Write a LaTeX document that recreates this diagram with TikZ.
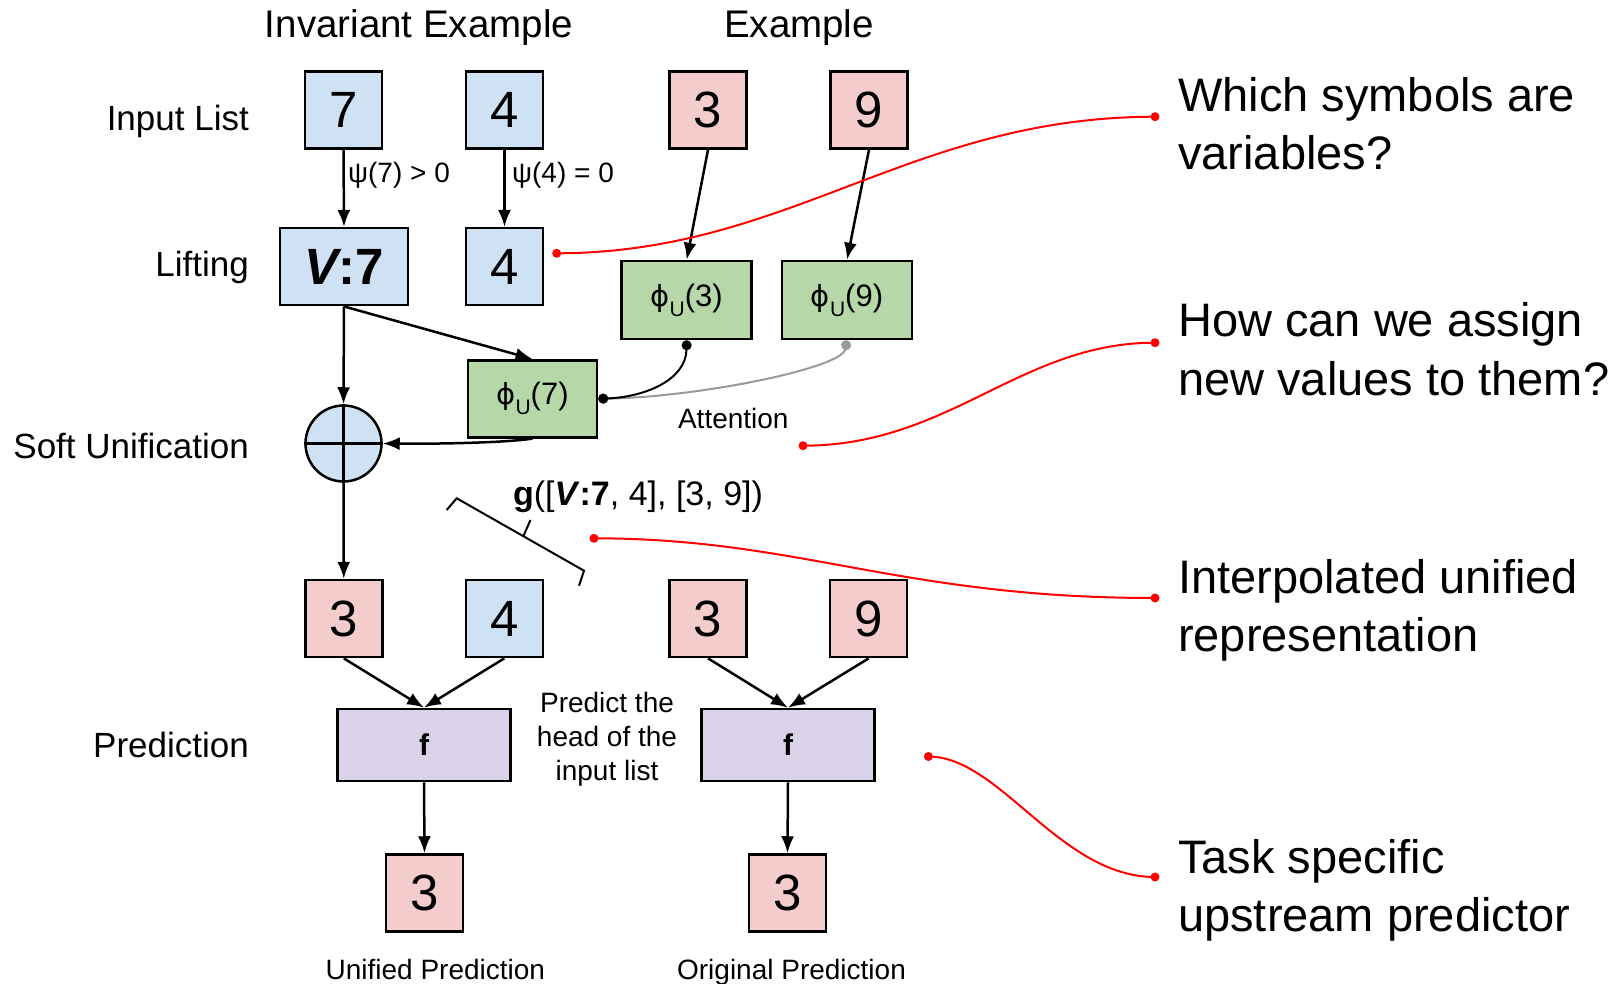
\documentclass[tikz,border=0pt]{standalone}
\usepackage{fontspec}
\setmainfont{Liberation Sans}
\newfontfamily\djv{DejaVu Sans}
\usetikzlibrary{arrows.meta}
\definecolor{bbl}{HTML}{CFE2F3}
\definecolor{ppk}{HTML}{F4CCCC}
\definecolor{ggr}{HTML}{B6D7A8}
\definecolor{ppu}{HTML}{D9D2E9}
\definecolor{ggy}{HTML}{9A9A9A}
\newcommand{\phiU}[1]{{\djv\fontsize{29}{29}\selectfont ϕ}\raisebox{-0.32em}{\fontsize{21}{21}\selectfont U}(#1)}
\begin{document}
\begin{tikzpicture}[x=1pt,y=-1pt,
  sq/.style={draw, line width=2.5pt, minimum width=77pt, minimum height=77pt, inner sep=0pt, font=\fontsize{51}{51}\selectfont},
  wbox/.style={draw, line width=2.5pt, minimum width=129pt, minimum height=77pt, inner sep=0pt, font=\fontsize{31}{31}\selectfont},
  fbox/.style={draw, line width=2.5pt, fill=ppu, minimum width=173pt, minimum height=72pt, inner sep=0pt, font=\fontsize{30}{30}\selectfont\bfseries},
  arr/.style={-{Latex[length=17pt,width=13pt]}, line width=2.5pt},
  lab/.style={font=\fontsize{35}{42}\selectfont, anchor=east, inner sep=0pt},
  small/.style={font=\fontsize{28}{34}\selectfont, inner sep=0pt},
  note/.style={font=\fontsize{47}{56}\selectfont, anchor=base west, inner sep=0pt},
  redl/.style={red, line width=2pt},
  dotc/.style={{Circle[length=10pt]}-{Circle[length=10pt]}, line width=2pt}
]
\useasboundingbox (0,0) rectangle (1614,984);

% titles and row labels
\node[font=\fontsize{38.5}{44}\selectfont] (tInv) at (419,28) {Invariant Example};
\node[font=\fontsize{38.5}{44}\selectfont] (tEx) at (799,28) {Example};
\node[lab] (tIn) at (249,121) {Input List};
\node[lab] (tLift) at (249,267.5) {Lifting};
\node[lab] (tSoft) at (249,445.6) {Soft Unification};
\node[lab] (tPred) at (249,745) {Prediction};

% input list
\node[sq, fill=bbl] (in7) at (343.5,110) {7};
\node[sq, fill=bbl] (in4) at (504.5,110) {4};
\node[sq, fill=ppk] (in3) at (708,110) {3};
\node[sq, fill=ppk] (in9) at (869,110) {9};

% lifting
\node[wbox, fill=bbl, minimum width=128pt, font=\fontsize{51}{51}\selectfont\bfseries] (v7) at (344,266.7) {\itshape V\upshape:7};
\node[sq, fill=bbl] (l4) at (504.5,266.7) {4};
\node[wbox, fill=ggr, minimum width=130pt, minimum height=78pt] (ph3) at (686.7,300) {\phiU{3}};
\node[wbox, fill=ggr, minimum width=130pt, minimum height=78pt] (ph9) at (847,300) {\phiU{9}};
\node[wbox, fill=ggr] (ph7) at (532.5,398.8) {\phiU{7}};

% soft unification circle
\node[circle, draw, line width=2.5pt, fill=bbl, minimum size=76pt, inner sep=0pt] (cc) at (343.5,443.5) {};
\draw[line width=2.5pt] (cc.north) -- (cc.south) (cc.west) -- (cc.east);

% unified / original lists
\node[sq, fill=ppk] (u3) at (343.8,618.6) {3};
\node[sq, fill=bbl] (u4) at (504.3,618.6) {4};
\node[sq, fill=ppk] (o3) at (708,618.6) {3};
\node[sq, fill=ppk] (o9) at (868.7,618.6) {9};
\node[fbox] (fL) at (424,745) {f};
\node[fbox] (fR) at (788,745) {f};
\node[sq, fill=ppk] (pL) at (424.5,893) {3};
\node[sq, fill=ppk] (pR) at (787.5,893) {3};

% arrows
\draw[arr] (in7.south) -- (v7.north);
\draw[arr] (in4.south) -- (l4.north);
\draw[arr] (in3.south) -- (ph3.north);
\draw[arr] (in9.south) -- (ph9.north);
\draw[arr] (v7.south) -- (ph7.north);
\draw[arr] (v7.south) -- (cc.north);
\draw[arr] (ph7.south) .. controls (505,443) and (430,444) .. (cc.east);
\draw[arr] (cc.south) -- (u3.north);
\draw[arr] (u3.south) -- (fL.north);
\draw[arr] (u4.south) -- (fL.north);
\draw[arr] (fL.south) -- (pL.north);
\draw[arr] (o3.south) -- (fR.north);
\draw[arr] (o9.south) -- (fR.north);
\draw[arr] (fR.south) -- (pR.north);

% attention
\draw[dotc, ggy] (ph9.south) .. controls (842,368) and (700,397) .. (ph7.east);
\draw[dotc, black] (ph3.south) .. controls (686,380) and (645,397) .. (ph7.east);
\node[small] (att) at (733.3,418.3) {Attention};

% psi labels
\node[small, anchor=west] (ps7) at (348,175) {ψ(7) > 0};
\node[small, anchor=west] (ps4) at (512,175) {ψ(4) = 0};

% g label and brace
\node[font=\fontsize{34}{34}\selectfont, inner sep=0pt] (gl) at (638,497) {\textbf{g}([\textbf{\textit{V}:7}, 4], [3, 9])};
\draw[line width=2pt] (446.7,510) -- (456.7,498.3) -- (584,570.7) -- (579,585.7);
\draw[line width=2pt] (523.3,536.2) -- (530.5,520);

% predict text
\node[small, align=center] (pt) at (607,739) {Predict the\\head of the\\input list};

% bottom labels
\node[small, anchor=base] (uP) at (435.4,979.5) {Unified Prediction};
\node[small, anchor=base] (oP) at (791.5,979.5) {Original Prediction};

% notes
\node[note] (n1a) at (1178,111.7) {Which symbols are};
\node[note] (n1b) at (1178,170) {variables?};
\node[note] (n2a) at (1178,336.7) {How can we assign};
\node[note] (n2b) at (1178,395) {new values to them?};
\node[note] (n3a) at (1178,593) {Interpolated unified};
\node[note] (n3b) at (1178,651.3) {representation};
\node[note] (n4a) at (1178,873) {Task specific};
\node[note] (n4b) at (1178,931.3) {upstream predictor};

% red connectors
\coordinate (r1a) at (556.7,253.3);
\coordinate (r1b) at (1155,116.7);
\coordinate (r2a) at (803,445.7);
\coordinate (r2b) at (1155,342.7);
\coordinate (r3a) at (594,538.3);
\coordinate (r3b) at (1155,598);
\coordinate (r4a) at (928.4,756.5);
\coordinate (r4b) at (1155,877);
\draw[redl] (r1a) .. controls (790,253) and (910,117) .. (r1b);
\draw[redl] (r2a) .. controls (950,445.7) and (1020,342.7) .. (r2b);
\draw[redl] (r3a) .. controls (800,538.3) and (900,598) .. (r3b);
\draw[redl] (r4a) .. controls (1000,756.5) and (1060,877) .. (r4b);
\foreach \p in {r1a,r1b,r2a,r2b,r3a,r3b,r4a,r4b} \fill[red] (\p) circle (4.5);
\end{tikzpicture}
\end{document}
